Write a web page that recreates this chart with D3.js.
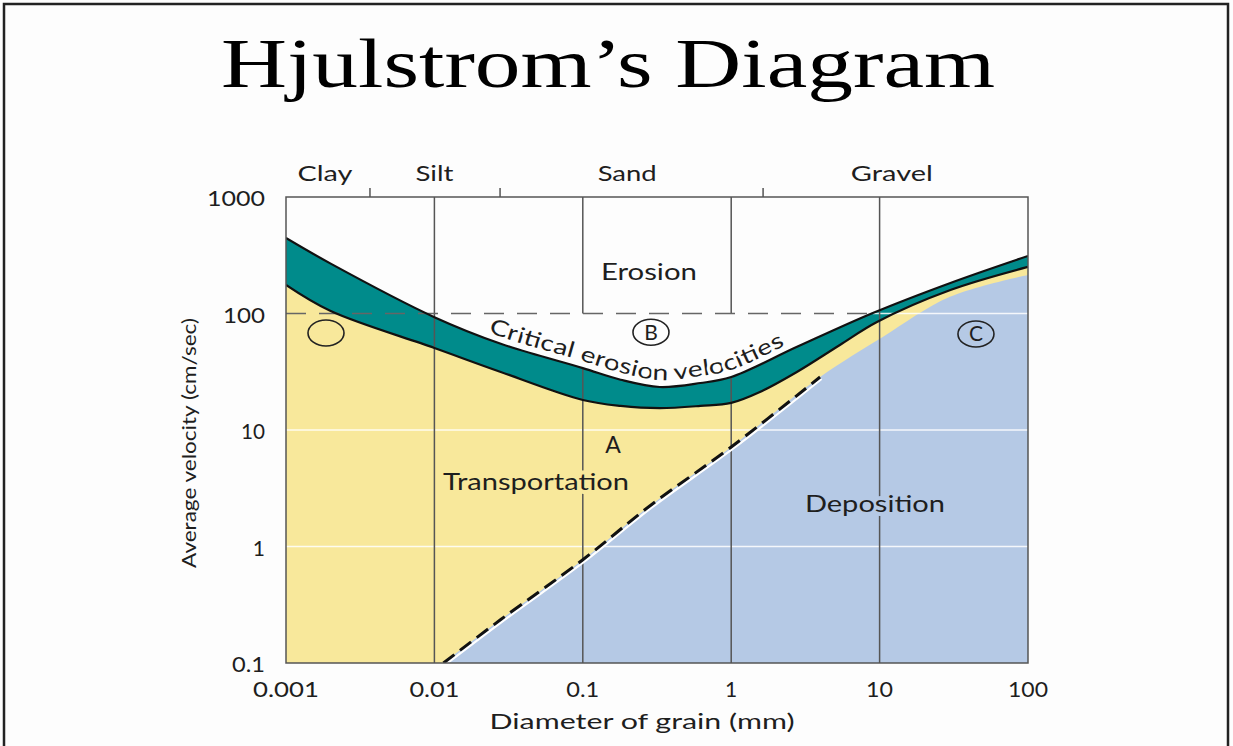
<!DOCTYPE html>
<html><head><meta charset="utf-8">
<script src="https://cdn.jsdelivr.net/npm/d3@7"></script>
<style>html,body{margin:0;padding:0;background:#fdfdfd;} svg{display:block;}</style>
</head><body><svg id="c" width="1233" height="746"></svg>
<script>
// ---------- data ----------
const xTicks = [0.001, 0.01, 0.1, 1, 10, 100];
const xTickLabels = ["0.001", "0.01", "0.1", "1", "10", "100"];
const yTicks = [0.1, 1, 10, 100, 1000];
const yTickLabels = ["0.1", "1", "10", "100", "1000"];
const categories = ["Clay", "Silt", "Sand", "Gravel"];
const categoryCenters = [0.00183, 0.01, 0.199, 12.1];
const categoryBounds = [0.00368, 0.0277, 1.64];

// upper edge of critical erosion band (cm/s vs mm)
const erosionTopD = [0.001, 0.002, 0.01, 0.028, 0.1, 0.18, 0.33, 0.62, 1, 2.8, 9, 30, 100];
const erosionTopV = [445, 268, 93, 55, 34, 27, 23.4, 25.3, 28.5, 52, 101, 183, 312];
// lower edge of critical erosion band
const erosionBotD = [0.001, 0.002, 0.01, 0.028, 0.1, 0.18, 0.33, 0.62, 1, 1.56, 2.77, 5.4, 9.6, 30, 100];
const erosionBotV = [176, 105, 50.6, 31.5, 18.1, 16.1, 15.4, 16.1, 17.1, 21.2, 31.5, 53.7, 84.5, 159, 251];
// settling (deposition) velocity
const depositD = [0.0115, 0.028, 0.1, 0.284, 1, 3.97, 10.5, 29.8, 100];
const depositV = [0.1, 0.236, 0.77, 2.24, 7.15, 28.5, 62.9, 139, 214];
const depositDashedMax = 4;      // dashed boundary drawn up to this size
const referenceVelocity = 100;   // dashed horizontal reference
const referenceEnd = 9;          // mm where reference meets the band

// annotations in data units [mm, cm/s]
const regionLabels = ["Erosion", "Transportation", "Deposition", "A"];
const regionD = [0.279, 0.0484, 9.3, 0.16];
const regionV = [194, 3.05, 1.98, 6.35];
const circleLabels = ["", "B", "C"];
const circleD = [0.00186, 0.288, 44.6];
const circleV = [68, 69, 66.7];

// ---------- layout ----------
const W = 1233, H = 746;
const P = {l: 286, r: 1028, t: 197, b: 663};
const FONT = "Lato, 'Open Sans', sans-serif";
const C = {teal: "#008b8b", yellow: "#f8e89b", blue: "#b5c9e5", line: "#111", grid: "#555", text: "#1e1e1e"};

const svg = d3.select("#c");
const x = d3.scaleLog().domain([0.001, 100]).range([P.l, P.r]);
const y = d3.scaleLog().domain([0.1, 1000]).range([P.b, P.t]);

const zip = (a, b) => a.map((d, i) => [d, b[i]]);
const topPts = zip(erosionTopD, erosionTopV);
const botPts = zip(erosionBotD, erosionBotV);
const depPts = zip(depositD, depositV);

function interpLog(ds, vs, d) {
  const ld = Math.log10(d);
  for (let i = 0; i < ds.length - 1; i++) {
    const a = Math.log10(ds[i]), b = Math.log10(ds[i + 1]);
    if (ld >= a && ld <= b) {
      const t = (ld - a) / (b - a);
      return Math.pow(10, Math.log10(vs[i]) * (1 - t) + Math.log10(vs[i + 1]) * t);
    }
  }
  return vs[vs.length - 1];
}

svg.append("rect").attr("width", W).attr("height", H).attr("fill", "#fdfdfd");
svg.append("rect").attr("x", 4).attr("y", 4).attr("width", 1224).attr("height", 780)
  .attr("fill", "none").attr("stroke", "#222").attr("stroke-width", 2.5);

svg.append("text").attr("x", 608).attr("y", 87).attr("text-anchor", "middle")
  .attr("font-family", "'Liberation Serif', 'Times New Roman', serif").attr("font-size", 70)
  .attr("textLength", 774).attr("lengthAdjust", "spacingAndGlyphs").attr("fill", "#000")
  .text("Hjulstrom\u2019s Diagram");

const defs = svg.append("defs");
defs.append("clipPath").attr("id", "plotClip").append("rect")
  .attr("x", P.l).attr("y", P.t).attr("width", P.r - P.l).attr("height", P.b - P.t);

const g = svg.append("g").attr("clip-path", "url(#plotClip)");
const curve = d3.curveCatmullRom.alpha(0.5);
const area = d3.area().x(d => x(d[0])).y0(P.b).y1(d => y(d[1])).curve(curve);
const line = d3.line().x(d => x(d[0])).y(d => y(d[1])).curve(curve);

g.append("path").attr("d", area(topPts)).attr("fill", C.teal);
g.append("path").attr("d", area(botPts)).attr("fill", C.yellow);
g.append("path").attr("d", area(depPts)).attr("fill", C.blue);

// white horizontal gridlines
[1, 10].forEach(v => g.append("line").attr("x1", P.l).attr("x2", P.r).attr("y1", y(v)).attr("y2", y(v))
  .attr("stroke", "#fff").attr("stroke-opacity", 0.85).attr("stroke-width", 1.5));
g.append("line").attr("x1", x(referenceEnd)).attr("x2", P.r)
  .attr("y1", y(referenceVelocity)).attr("y2", y(referenceVelocity))
  .attr("stroke", "#fff").attr("stroke-opacity", 0.85).attr("stroke-width", 1.5);

// vertical decade lines
[0.01, 0.1, 1, 10].forEach(d => {
  const gap = (d === 0.1 || d === 1);
  if (gap) {
    g.append("line").attr("x1", x(d)).attr("x2", x(d)).attr("y1", P.t).attr("y2", y(referenceVelocity))
      .attr("stroke", C.grid).attr("stroke-width", 1.5);
    g.append("line").attr("x1", x(d)).attr("x2", x(d)).attr("y1", y(interpLog(erosionTopD, erosionTopV, d))).attr("y2", P.b)
      .attr("stroke", C.grid).attr("stroke-width", 1.5);
  } else {
    g.append("line").attr("x1", x(d)).attr("x2", x(d)).attr("y1", P.t).attr("y2", P.b)
      .attr("stroke", C.grid).attr("stroke-width", 1.5);
  }
});

// dashed 100 cm/s reference
g.append("line").attr("x1", P.l).attr("x2", x(referenceEnd))
  .attr("y1", y(referenceVelocity)).attr("y2", y(referenceVelocity))
  .attr("stroke", "#666").attr("stroke-width", 1.5).attr("stroke-dasharray", "20,13");

// band outlines
g.append("path").attr("d", line(topPts)).attr("fill", "none").attr("stroke", C.line).attr("stroke-width", 2.2);
g.append("path").attr("d", line(botPts)).attr("fill", "none").attr("stroke", C.line).attr("stroke-width", 2.2);

// deposition dashed boundary with white highlight
const depDash = depPts.filter(d => d[0] <= depositDashedMax);
g.append("path").attr("d", line(depDash)).attr("fill", "none").attr("stroke", "#fff")
  .attr("stroke-width", 2.2).attr("transform", "translate(1.5,2)");
g.append("path").attr("d", line(depDash)).attr("fill", "none").attr("stroke", C.line)
  .attr("stroke-width", 3).attr("stroke-dasharray", "14,7");

// plot border
svg.append("rect").attr("x", P.l).attr("y", P.t).attr("width", P.r - P.l).attr("height", P.b - P.t)
  .attr("fill", "none").attr("stroke", C.grid).attr("stroke-width", 1.5);

// category axis
categoryBounds.forEach(d => svg.append("line").attr("x1", x(d)).attr("x2", x(d)).attr("y1", P.t).attr("y2", P.t - 9)
  .attr("stroke", C.grid).attr("stroke-width", 1.5));
const catWidths = [55, 38, 59, 82];
categories.forEach((c, i) => svg.append("text").attr("x", x(categoryCenters[i])).attr("y", 181)
  .attr("text-anchor", "middle").attr("font-family", FONT).attr("font-size", 22).attr("fill", C.text)
  .attr("textLength", catWidths[i]).attr("lengthAdjust", "spacingAndGlyphs").text(c));

// tick labels
const xTickW = [66, 50, 33, null, 27, 40];
xTicks.forEach((d, i) => {
  const t = svg.append("text").attr("x", x(d)).attr("y", 697).attr("text-anchor", "middle")
    .attr("font-family", FONT).attr("font-size", 21).attr("fill", C.text).text(xTickLabels[i]);
  if (xTickW[i]) t.attr("textLength", xTickW[i]).attr("lengthAdjust", "spacingAndGlyphs");
});
const yTickW = [33, null, 24, 42, 58];
yTicks.forEach((v, i) => {
  const t = svg.append("text").attr("x", 265).attr("y", y(v) + 9).attr("text-anchor", "end")
    .attr("font-family", FONT).attr("font-size", 21).attr("fill", C.text).text(yTickLabels[i]);
  if (yTickW[i]) t.attr("textLength", yTickW[i]).attr("lengthAdjust", "spacingAndGlyphs");
});

// axis titles
svg.append("text").attr("x", 642).attr("y", 729).attr("text-anchor", "middle")
  .attr("font-family", FONT).attr("font-size", 21).attr("fill", C.text)
  .attr("textLength", 305).attr("lengthAdjust", "spacingAndGlyphs").text("Diameter of grain (mm)");
svg.append("text").attr("transform", "translate(196,443) rotate(-90)").attr("text-anchor", "middle")
  .attr("font-family", FONT).attr("font-size", 20).attr("fill", C.text)
  .attr("textLength", 250).attr("lengthAdjust", "spacingAndGlyphs").text("Average velocity (cm/sec)");

// region labels
const regionW = [96, 186, 140, null];
const regionHalo = ["none", C.yellow, C.blue, "none"];
regionLabels.forEach((s, i) => {
  const t = svg.append("text").attr("x", x(regionD[i])).attr("y", y(regionV[i])).attr("text-anchor", "middle")
    .attr("font-family", FONT).attr("font-size", 23).attr("fill", C.text)
    .attr("stroke", regionHalo[i]).attr("stroke-width", regionHalo[i] === "none" ? 0 : 8)
    .attr("paint-order", "stroke").attr("stroke-linejoin", "round").text(s);
  if (regionW[i]) t.attr("textLength", regionW[i]).attr("lengthAdjust", "spacingAndGlyphs");
});

// circled letters
circleLabels.forEach((s, i) => {
  const cx = x(circleD[i]), cy = y(circleV[i]);
  svg.append("ellipse").attr("cx", cx).attr("cy", cy).attr("rx", 18).attr("ry", 13)
    .attr("fill", "none").attr("stroke", "#222").attr("stroke-width", 1.6);
  if (s) svg.append("text").attr("x", cx).attr("y", cy + 7.5).attr("text-anchor", "middle")
    .attr("font-family", FONT).attr("font-size", 21).attr("fill", C.text).text(s);
});

// curved label along erosion curve
const shifted = d3.line().x(d => x(d[0])).y(d => y(d[1]) - 7).curve(curve);
const cp = defs.append("path").attr("id", "critPath").attr("d", shifted(topPts));
const node = cp.node();
const total = node.getTotalLength();
function lenAtX(px) {
  for (let L = 0; L <= total; L += 0.5) { if (node.getPointAtLength(L).x >= px) return L; }
  return total;
}
const L1 = lenAtX(488), L2 = lenAtX(785);
svg.append("text").attr("font-family", FONT).attr("font-size", 22).attr("fill", C.text)
  .attr("stroke", "#fdfdfd").attr("stroke-width", 5).attr("paint-order", "stroke")
  .append("textPath").attr("href", "#critPath").attr("startOffset", L1)
  .attr("textLength", L2 - L1).attr("lengthAdjust", "spacingAndGlyphs")
  .text("Critical erosion velocities");
</script></body></html>
